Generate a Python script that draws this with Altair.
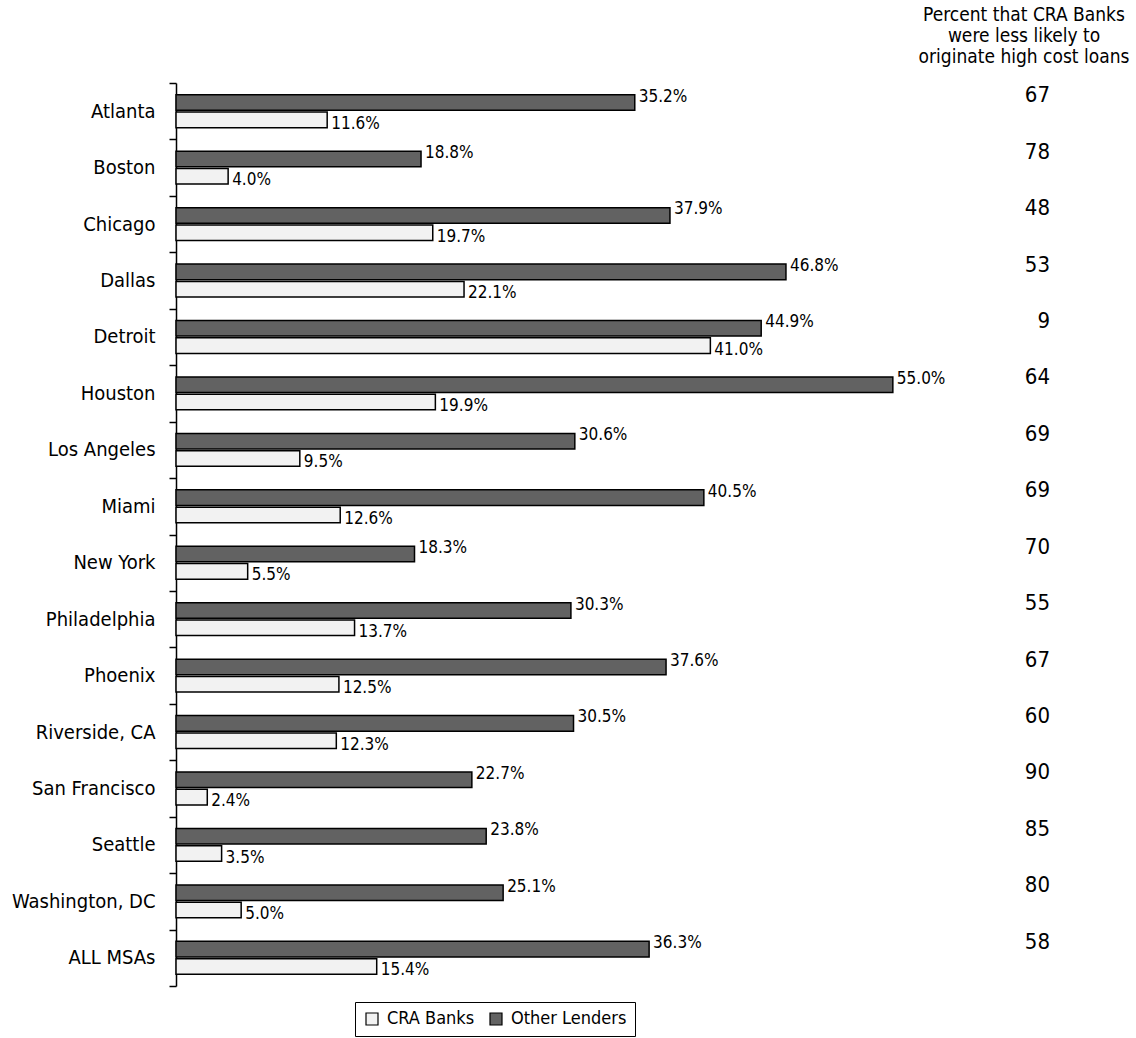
import altair as alt
import pandas as pd

cities = ["Atlanta", "Boston", "Chicago", "Dallas", "Detroit", "Houston",
          "Los Angeles", "Miami", "New York", "Philadelphia", "Phoenix",
          "Riverside, CA", "San Francisco", "Seattle", "Washington, DC", "ALL MSAs"]
other_lenders = [35.2, 18.8, 37.9, 46.8, 44.9, 55.0, 30.6, 40.5, 18.3, 30.3,
                 37.6, 30.5, 22.7, 23.8, 25.1, 36.3]
cra_banks = [11.6, 4.0, 19.7, 22.1, 41.0, 19.9, 9.5, 12.6, 5.5, 13.7,
             12.5, 12.3, 2.4, 3.5, 5.0, 15.4]
pct_less_likely = [67, 78, 48, 53, 9, 64, 69, 69, 70, 55, 67, 60, 90, 85, 80, 58]
series_names = ["CRA Banks", "Other Lenders"]
bar_order = ["Other Lenders", "CRA Banks"]
header_text = "Percent that CRA Banks\nwere less likely to\noriginate high cost loans"

rows = []
for c, o, b in zip(cities, other_lenders, cra_banks):
    rows.append({"city": c, "series": "Other Lenders", "value": o})
    rows.append({"city": c, "series": "CRA Banks", "value": b})
df = pd.DataFrame(rows)
df["label"] = df["value"].map(lambda v: f"{v:.1f}%")
pct_df = pd.DataFrame({"city": cities, "pct": pct_less_likely})
head_df = pd.DataFrame({"t": [header_text]})

FONT = "DejaVu Sans Condensed, DejaVu Sans"

y_enc = alt.Y("city:N", sort=cities,
              scale=alt.Scale(paddingInner=0, paddingOuter=0),
              axis=alt.Axis(title=None, domainColor="black", tickColor="black",
                            tickSize=7, tickBand="extent", labelFontSize=20,
                            labelColor="black", labelFont=FONT, labelPadding=14,
                            domainWidth=1.5, tickWidth=1.5, grid=False))
x_enc = alt.X("value:Q", scale=alt.Scale(domain=[0, 60]), axis=None)
yoff = alt.YOffset("series:N", sort=bar_order,
                   scale=alt.Scale(domain=bar_order, paddingInner=0.1, paddingOuter=0.68))

bars = alt.Chart(df).mark_bar(stroke="black", strokeWidth=1.5).encode(
    y=y_enc, x=x_enc, yOffset=yoff,
    fill=alt.Fill("series:N",
                  scale=alt.Scale(domain=series_names, range=["#f2f2f2", "#626262"]),
                  legend=alt.Legend(title=None, orient="none", legendX=179, legendY=919,
                                    direction="horizontal", strokeColor="black",
                                    padding=8, labelFontSize=18, labelFont=FONT,
                                    labelColor="black", symbolType="square",
                                    symbolSize=144, symbolStrokeColor="black",
                                    symbolStrokeWidth=1.2, columnPadding=12,
                                    labelOffset=6, cornerRadius=0)),
)

other_lbl = alt.Chart(df).transform_filter(alt.datum.series == "Other Lenders").mark_text(
    align="left", baseline="middle", dx=4, dy=-6, fontSize=17, font=FONT, color="black"
).encode(y=y_enc, x=x_enc, yOffset=yoff, text="label:N")

cra_lbl = alt.Chart(df).transform_filter(alt.datum.series == "CRA Banks").mark_text(
    align="left", baseline="middle", dx=4, dy=4, fontSize=17, font=FONT, color="black"
).encode(y=y_enc, x=x_enc, yOffset=yoff, text="label:N")

pct_layer = alt.Chart(pct_df).mark_text(
    align="right", baseline="middle", dy=-16, fontSize=22, font=FONT, color="black"
).encode(y=y_enc, x=alt.value(874), text="pct:Q")

header = alt.Chart(head_df).mark_text(
    align="center", baseline="top", lineBreak="\n", lineHeight=21, fontSize=19,
    font=FONT, color="black"
).encode(x=alt.value(848), y=alt.value(-77), text="t:N")

chart = alt.layer(bars, other_lbl, cra_lbl, pct_layer, header).properties(
    width=782, height=903,
    padding={"left": 176, "top": 83, "right": 178, "bottom": 52},
    autosize=alt.AutoSizeParams(type="none"),
    background="white",
).configure_view(stroke=None)

chart.save("out.html", embed_options={"renderer": "svg", "actions": False})
